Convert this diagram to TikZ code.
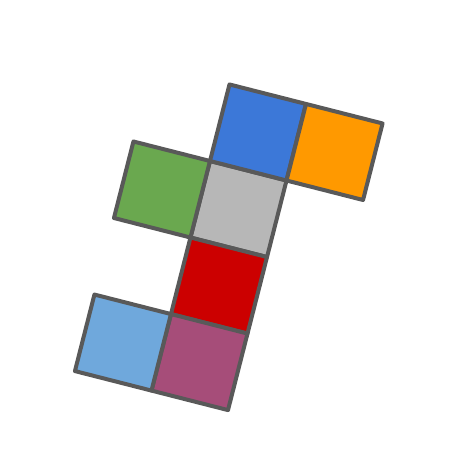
\documentclass[tikz,border=0pt]{standalone}
\usepackage{tikz}

\definecolor{edgegray}{HTML}{595959}
\definecolor{topblue}{HTML}{3C78D8}
\definecolor{sideorange}{HTML}{FF9900}
\definecolor{sidegreen}{HTML}{6AA84F}
\definecolor{midgray}{HTML}{B7B7B7}
\definecolor{frontred}{HTML}{CC0000}
\definecolor{backpurple}{HTML}{A64D79}
\definecolor{lightblue}{HTML}{6FA8DC}

\tikzset{
  face/.style={rectangle, draw=edgegray, line width=0.08cm, line join=round,
    minimum size=1.58cm, inner sep=0pt, outer sep=0pt, rotate=-14.3}
}

\begin{document}
\begin{tikzpicture}[x=0.02cm, y=-0.02cm]
			\useasboundingbox (0,0) rectangle (453,471);
			\node[face, fill=midgray](gray) at (238.5,209){};
			\node[face, fill=topblue, anchor=south](top) at (gray.north){};
			\node[face, fill=sideorange, anchor=west](right) at (top.east){};
			\node[face, fill=sidegreen, anchor=east](left) at (gray.west){};
			\node[face, fill=frontred, anchor=north](front) at (gray.south){};
			\node[face, fill=backpurple, anchor=north](bottom) at (front.south){};
			\node[face, fill=lightblue, anchor=east](back) at (bottom.west){};
			\end{tikzpicture}
\end{document}
